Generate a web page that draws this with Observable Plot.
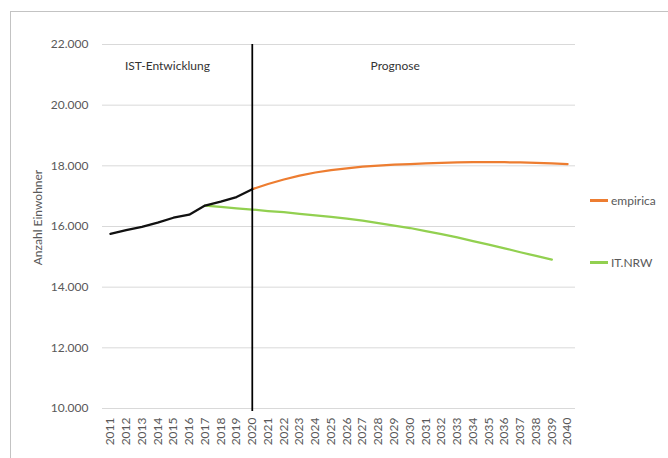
<!DOCTYPE html>
<html>
<head>
<meta charset="utf-8">
<script src="https://cdn.jsdelivr.net/npm/d3@7"></script>
<script src="https://cdn.jsdelivr.net/npm/@observablehq/plot@0.6"></script>
<style>
  html, body { margin: 0; padding: 0; background: #fff; overflow: hidden; }
  body { width: 668px; height: 458px; position: relative; font-family: Lato, "Open Sans", sans-serif; }
  .frame { position: absolute; left: 10px; top: 11px; width: 700px; height: 480px; border: 1px solid #c3c3c3; box-sizing: border-box; }
  #chart { position: absolute; left: 0; top: 0; }
  .legend { position: absolute; left: 590px; font-size: 12px; color: #595959; display: flex; align-items: center; white-space: nowrap; }
  .legend span.sw { display: inline-block; width: 18px; height: 2.5px; margin-right: 3px; }
</style>
</head>
<body>
<div class="frame"></div>
<div id="chart"></div>
<div id="legend"></div>
<script>
const years = ["2011","2012","2013","2014","2015","2016","2017","2018","2019","2020",
  "2021","2022","2023","2024","2025","2026","2027","2028","2029","2030",
  "2031","2032","2033","2034","2035","2036","2037","2038","2039","2040"];

const istYears = ["2011","2012","2013","2014","2015","2016","2017","2018","2019","2020"];
const istValues = [15760, 15880, 15990, 16130, 16290, 16390, 16690, 16820, 16970, 17230];

const empiricaYears = ["2020","2021","2022","2023","2024","2025","2026","2027","2028","2029","2030",
  "2031","2032","2033","2034","2035","2036","2037","2038","2039","2040"];
const empiricaValues = [17230, 17400, 17550, 17680, 17780, 17860, 17920, 17970, 18010, 18040, 18060,
  18080, 18100, 18110, 18120, 18120, 18120, 18110, 18100, 18080, 18060];

const itnrwYears = ["2017","2018","2019","2020","2021","2022","2023","2024","2025","2026","2027","2028",
  "2029","2030","2031","2032","2033","2034","2035","2036","2037","2038","2039"];
const itnrwValues = [16690, 16650, 16600, 16560, 16510, 16470, 16420, 16370, 16320, 16260, 16190, 16110,
  16030, 15950, 15850, 15750, 15640, 15520, 15400, 15280, 15150, 15030, 14910];

const yTicks = [10000, 12000, 14000, 16000, 18000, 20000, 22000];
const yTitle = "Anzahl Einwohner";
const seriesNames = ["empirica", "IT.NRW"];
const seriesColors = ["#ED7D31", "#92D050"];
const annotationLabels = ["IST-Entwicklung", "Prognose"];
const annotationYears = ["2015", "2029"];
const annotationValue = 21300;
const dividerYear = "2020";

const de = d3.formatLocale({decimal: ",", thousands: ".", grouping: [3], currency: ["", "€"]});
const fmt = de.format(",.0f");

const ist = istYears.map((x, i) => ({x, y: istValues[i]}));
const emp = empiricaYears.map((x, i) => ({x, y: empiricaValues[i]}));
const nrw = itnrwYears.map((x, i) => ({x, y: itnrwValues[i]}));
const ann = annotationLabels.map((t, i) => ({t, x: annotationYears[i], y: annotationValue}));

const W = 668, H = 458, mL = 102, mR = 93, mT = 44, mB = 50;

const chart = Plot.plot({
  width: W,
  height: H,
  marginLeft: mL,
  marginRight: mR,
  marginTop: mT,
  marginBottom: mB,
  style: {fontFamily: "Lato, 'Open Sans', sans-serif", fontSize: "12px", color: "#595959", background: "transparent"},
  x: {type: "point", domain: years, padding: 0.5, round: false, label: null},
  y: {domain: [10000, 22000], ticks: yTicks, tickFormat: fmt, label: null},
  marks: [
    Plot.gridY(yTicks, {stroke: "#d9d9d9", strokeOpacity: 1, strokeWidth: 1}),
    Plot.axisY(yTicks, {tickSize: 0, tickPadding: 14, tickFormat: fmt, label: null, fill: "#595959"}),
    Plot.axisX(years, {tickSize: 0, tickPadding: 9, tickRotate: -90, label: null, fill: "#595959"}),
    Plot.text([yTitle], {frameAnchor: "left", textAnchor: "middle", rotate: -90, dx: -64, dy: -9, fill: "#595959", fontSize: 12}),
    Plot.line(nrw, {x: "x", y: "y", stroke: seriesColors[1], strokeWidth: 2.25}),
    Plot.line(emp, {x: "x", y: "y", stroke: seriesColors[0], strokeWidth: 2.25}),
    Plot.line(ist, {x: "x", y: "y", stroke: "#111", strokeWidth: 2.25}),
    Plot.ruleX([dividerYear], {stroke: "#000", strokeWidth: 1.75, insetBottom: -3}),
    Plot.text([ann[0]], {x: "x", y: "y", text: "t", dx: -6, fill: "#333", fontSize: 12}),
    Plot.text([ann[1]], {x: "x", y: "y", text: "t", dx: 1, fill: "#333", fontSize: 12})
  ]
});
document.getElementById("chart").appendChild(chart);

const legendTops = [201, 263];
const lg = document.getElementById("legend");
seriesNames.forEach((name, i) => {
  const d = document.createElement("div");
  d.className = "legend";
  d.style.top = (legendTops[i] - 8) + "px";
  d.innerHTML = `<span class="sw" style="background:${seriesColors[i]}"></span>${name}`;
  lg.appendChild(d);
});
</script>
</body>
</html>
